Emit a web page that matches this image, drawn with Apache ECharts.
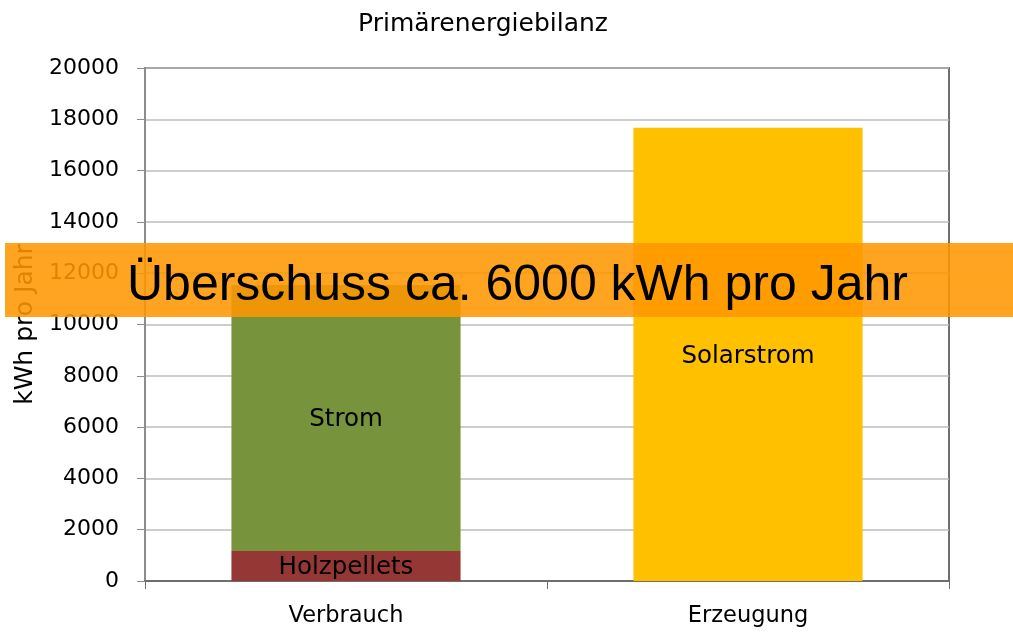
<!DOCTYPE html>
<html>
<head>
<meta charset="utf-8">
<style>
  html, body { margin: 0; padding: 0; background: #fff; }
  #chart { width: 1013px; height: 632px; }
</style>
<script src="https://cdn.jsdelivr.net/npm/echarts@6/dist/echarts.min.js"></script>
</head>
<body>
<div id="chart"></div>
<script>
const categories = ['Verbrauch', 'Erzeugung'];
const holzpellets = [1170, 0];
const strom = [10370, 0];
const solarstrom = [0, 17670];
const yTicks = [0, 2000, 4000, 6000, 8000, 10000, 12000, 14000, 16000, 18000, 20000];

const font = 'DejaVu Sans, Verdana, sans-serif';
const bannerFont = 'Liberation Sans, Arial, sans-serif';
const chart = echarts.init(document.getElementById('chart'));

const segLabel = {
  show: true,
  position: 'inside',
  offset: [0, 2],
  color: '#000',
  fontFamily: font,
  fontSize: 24.5,
  formatter: (p) => (p.value ? p.seriesName : ''),
};

chart.setOption({
  animation: false,
  title: {
    text: 'Primärenergiebilanz',
    left: 478,
    textAlign: 'center',
    top: 7,
    textStyle: { fontFamily: font, fontSize: 25, fontWeight: 'normal', color: '#000' },
  },
  grid: {
    left: 145, right: 64, top: 68, bottom: 51,
    show: true, borderColor: '#6e6e6e', borderWidth: 2,
  },
  xAxis: {
    type: 'category',
    data: categories,
    axisLine: { lineStyle: { color: '#6e6e6e', width: 2 } },
    axisTick: { show: true, length: 8, lineStyle: { color: '#6e6e6e' } },
    axisLabel: { color: '#000', fontFamily: font, fontSize: 22.5, margin: 24 },
  },
  yAxis: {
    type: 'value',
    min: yTicks[0],
    max: yTicks[yTicks.length - 1],
    interval: yTicks[1] - yTicks[0],
    name: 'kWh pro Jahr',
    nameLocation: 'middle',
    nameGap: 106,
    nameTextStyle: { color: '#000', fontFamily: font, fontSize: 25 },
    axisLine: { show: true, lineStyle: { color: '#8c8c8c', width: 2 } },
    axisTick: { show: true, length: 8, lineStyle: { color: '#8c8c8c' } },
    axisLabel: {
      color: '#000', fontFamily: font, fontSize: 22, margin: 26,
      formatter: (v) => String(v),
    },
    splitLine: { lineStyle: { color: '#bdbdbd', width: 1.5 } },
  },
  series: [
    {
      name: 'Holzpellets', type: 'bar', stack: 'a', data: holzpellets,
      barWidth: '57%', itemStyle: { color: '#953735' }, label: segLabel,
    },
    {
      name: 'Strom', type: 'bar', stack: 'a', data: strom,
      itemStyle: { color: '#77933c' }, label: segLabel,
    },
    {
      name: 'Solarstrom', type: 'bar', stack: 'a', data: solarstrom,
      itemStyle: { color: '#ffc000' }, label: segLabel,
    },
  ],
  graphic: [
    {
      type: 'rect', z: 100,
      shape: { x: 5, y: 243, width: 1008, height: 74 },
      style: { fill: 'rgba(255,150,0,0.87)' },
    },
    {
      type: 'text', z: 101,
      left: 127, top: 261,
      style: {
        text: 'Überschuss ca. 6000 kWh pro Jahr',
        fill: '#000', font: '50px ' + bannerFont,
      },
    },
  ],
});
</script>
</body>
</html>
